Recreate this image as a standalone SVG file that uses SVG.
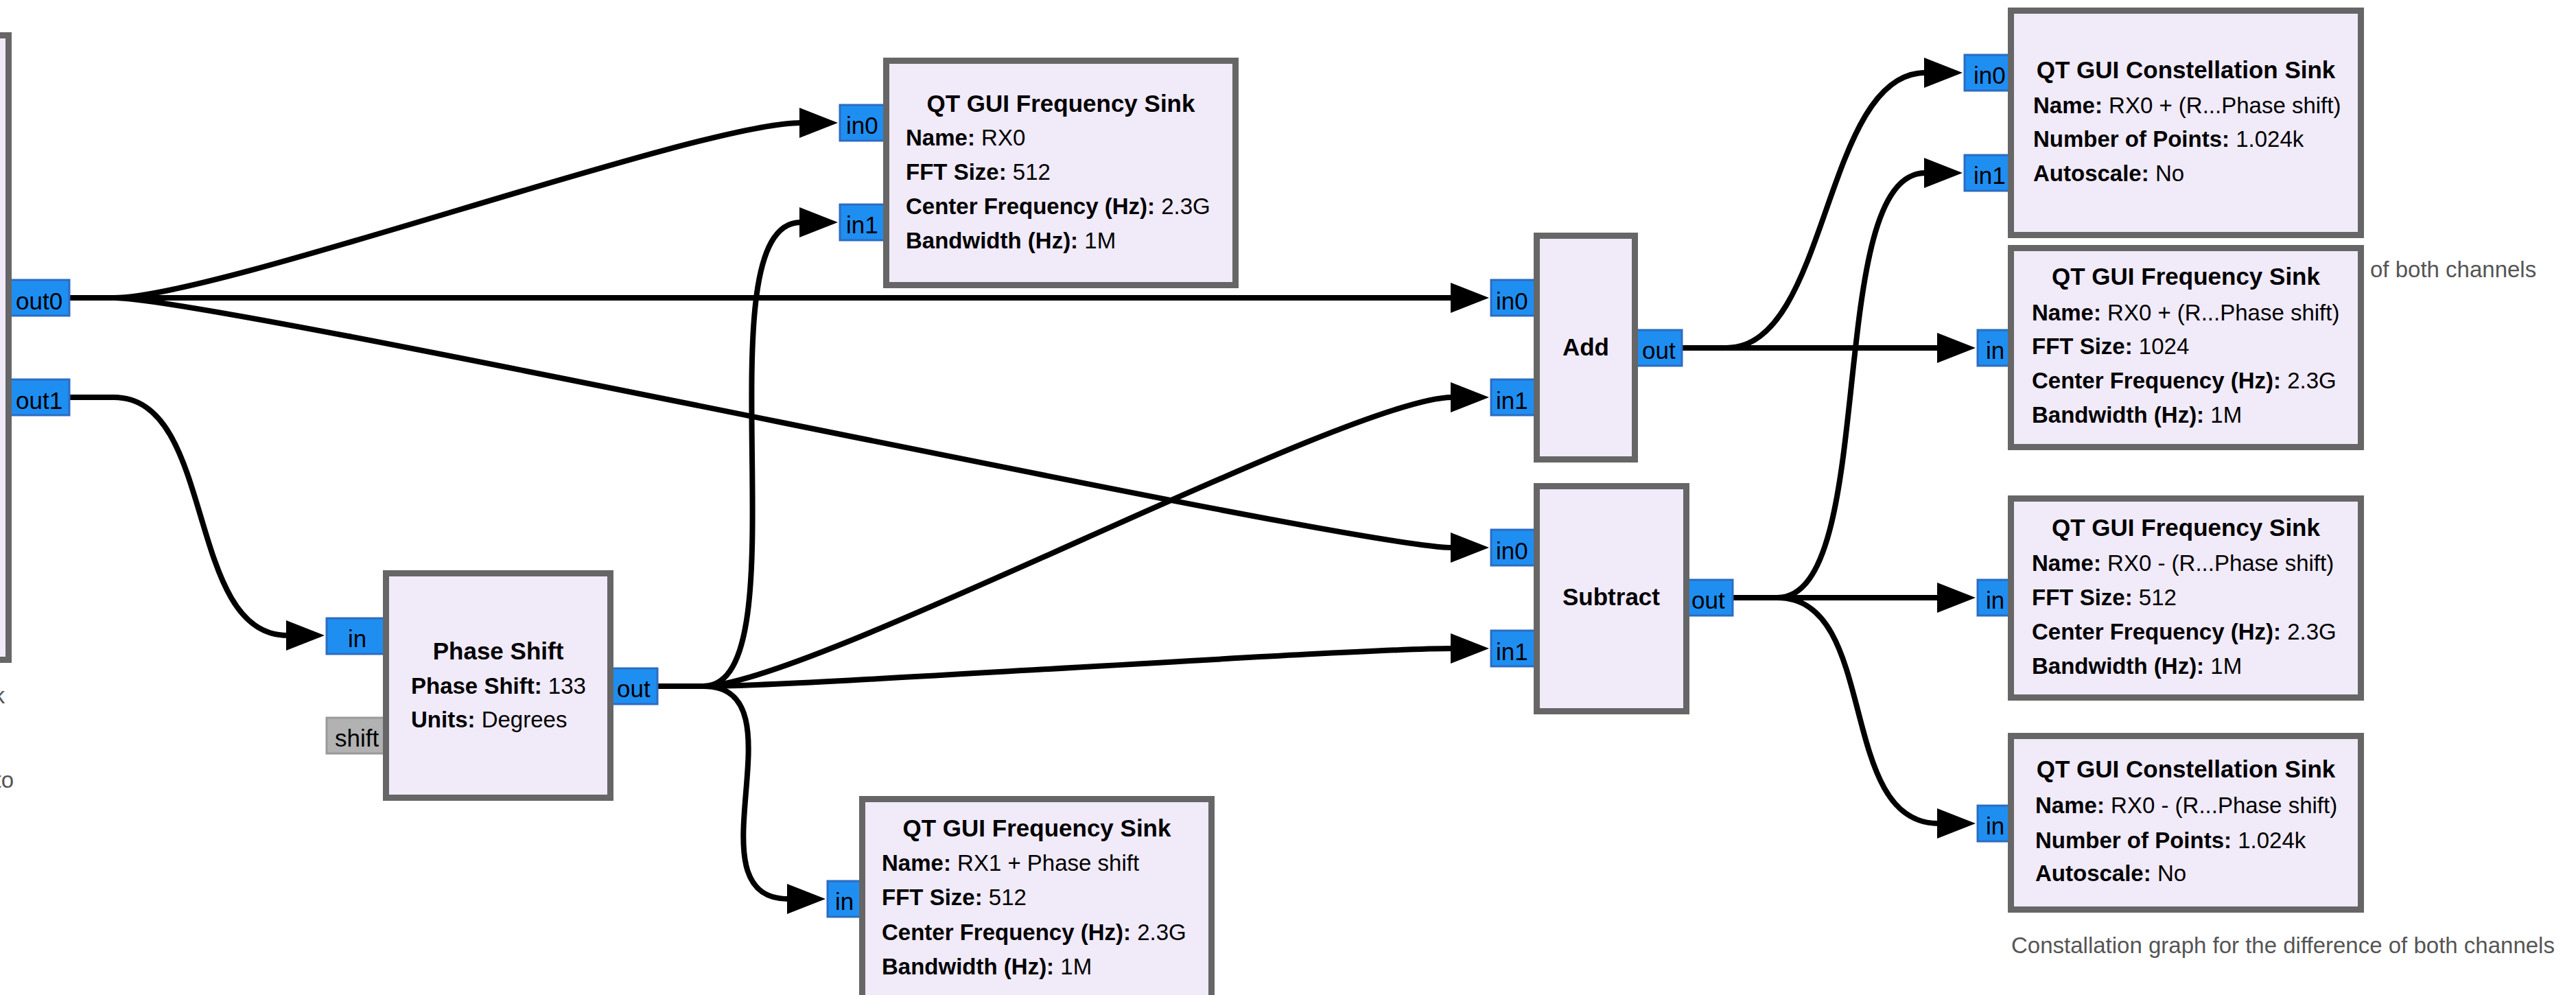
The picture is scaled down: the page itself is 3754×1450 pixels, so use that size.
<svg xmlns="http://www.w3.org/2000/svg" width="3754" height="1450" viewBox="0 0 3754 1450">
  <style>
    text { font-family: "Liberation Sans", Arial, sans-serif; fill: #000; }
    .blk { fill: #f0eaf9; stroke: #666; stroke-width: 9; }
    .port { fill: #1f8ef1; stroke: #2c6cc2; stroke-width: 3; }
    .pgray { fill: #b2b2b2; stroke: #9a9a9a; stroke-width: 3; }
    .plbl { font-size: 35px; }
    .title { font-size: 35px; font-weight: bold; text-anchor: middle; }
    .body { font-size: 33px; }
    .b { font-weight: bold; }
    .wire { fill: none; stroke: #000; stroke-width: 8; marker-end: url(#arrow); }
    .note { font-size: 33px; fill: #555; }
  </style>
  <defs>
    <marker id="arrow" markerUnits="userSpaceOnUse" markerWidth="58" markerHeight="46" refX="2" refY="23" orient="auto">
      <path d="M0,1 L56,23 L0,45 Z" fill="#000"/>
    </marker>
  </defs>
  <rect width="3754" height="1450" fill="#fff"/>

  <!-- connections -->
  <g id="connections">
    <path class="wire" d="M101,434 H166 C316,434 1017,179 1167,179"/>
    <path class="wire" d="M101,434 H2116"/>
    <path class="wire" d="M101,434 H166 C316,434 1966,798 2116,798"/>
    <path class="wire" d="M101,579 H166 C316,579 269,926 419,926"/>
    <path class="wire" d="M958,1000 H1025 C1175,1000 1017,324 1167,324"/>
    <path class="wire" d="M958,1000 H1025 C1175,1000 1966,579 2116,579"/>
    <path class="wire" d="M958,1000 H1025 C1175,1000 1966,945 2116,945"/>
    <path class="wire" d="M958,1000 H1025 C1175,1000 999,1310 1149,1310"/>
    <path class="wire" d="M2451,507 H2516 C2666,507 2656,106 2806,106"/>
    <path class="wire" d="M2451,507 H2825"/>
    <path class="wire" d="M2525,871 H2590 C2740,871 2656,252 2806,252"/>
    <path class="wire" d="M2525,871 H2825"/>
    <path class="wire" d="M2525,871 H2590 C2740,871 2675,1200 2825,1200"/>
  </g>

  <!-- source block, cut off at the left edge -->
  <g id="source">
    <rect class="port" x="6" y="408" width="95" height="52"/>
    <text class="plbl" x="23" y="451">out0</text>
    <rect class="port" x="6" y="553" width="95" height="52"/>
    <text class="plbl" x="23" y="596">out1</text>
    <rect class="blk" x="-100" y="51.5" width="112.5" height="910"/>
    <text class="note" x="7" y="1025" text-anchor="end">k</text>
    <text class="note" x="20" y="1148" text-anchor="end">to</text>
  </g>

  <!-- QT GUI Frequency Sink: RX0 -->
  <g id="freq_sink_rx0">
    <rect class="port" x="1224" y="153" width="75" height="52"/>
    <text class="plbl" x="1233" y="195">in0</text>
    <rect class="port" x="1224" y="298" width="75" height="52"/>
    <text class="plbl" x="1233" y="340">in1</text>
    <rect class="blk" x="1291.5" y="88.5" width="509" height="327"/>
    <text class="title" x="1546" y="163">QT GUI Frequency Sink</text>
    <text class="body" x="1320" y="212"><tspan class="b">Name:</tspan> RX0</text>
    <text class="body" x="1320" y="262"><tspan class="b">FFT Size:</tspan> 512</text>
    <text class="body" x="1320" y="312"><tspan class="b">Center Frequency (Hz):</tspan> 2.3G</text>
    <text class="body" x="1320" y="362"><tspan class="b">Bandwidth (Hz):</tspan> 1M</text>
  </g>

  <!-- Phase Shift -->
  <g id="phase_shift">
    <rect class="port" x="476" y="901" width="95" height="52"/>
    <text class="plbl" x="507" y="943">in</text>
    <rect class="pgray" x="476" y="1046" width="95" height="52"/>
    <text class="plbl" x="488" y="1088">shift</text>
    <rect class="port" x="880" y="974" width="78" height="52"/>
    <text class="plbl" x="899" y="1016">out</text>
    <rect class="blk" x="562.5" y="835.5" width="327" height="327"/>
    <text class="title" x="726" y="961">Phase Shift</text>
    <text class="body" x="599" y="1011"><tspan class="b">Phase Shift:</tspan> 133</text>
    <text class="body" x="599" y="1060"><tspan class="b">Units:</tspan> Degrees</text>
  </g>

  <!-- QT GUI Frequency Sink: RX1 + Phase shift -->
  <g id="freq_sink_rx1">
    <rect class="port" x="1206" y="1284" width="60" height="52"/>
    <text class="plbl" x="1217" y="1326">in</text>
    <rect class="blk" x="1256.5" y="1164.5" width="509" height="290"/>
    <text class="title" x="1511" y="1219">QT GUI Frequency Sink</text>
    <text class="body" x="1285" y="1269"><tspan class="b">Name:</tspan> RX1 + Phase shift</text>
    <text class="body" x="1285" y="1319"><tspan class="b">FFT Size:</tspan> 512</text>
    <text class="body" x="1285" y="1370"><tspan class="b">Center Frequency (Hz):</tspan> 2.3G</text>
    <text class="body" x="1285" y="1420"><tspan class="b">Bandwidth (Hz):</tspan> 1M</text>
  </g>

  <!-- Add -->
  <g id="add">
    <rect class="port" x="2173" y="408" width="75" height="52"/>
    <text class="plbl" x="2180" y="451">in0</text>
    <rect class="port" x="2173" y="553" width="75" height="52"/>
    <text class="plbl" x="2180" y="596">in1</text>
    <rect class="port" x="2374" y="481" width="77" height="52"/>
    <text class="plbl" x="2393" y="523">out</text>
    <rect class="blk" x="2239.5" y="343.5" width="143" height="326"/>
    <text class="title" x="2311" y="518">Add</text>
  </g>

  <!-- Subtract -->
  <g id="subtract">
    <rect class="port" x="2173" y="772" width="75" height="52"/>
    <text class="plbl" x="2180" y="815">in0</text>
    <rect class="port" x="2173" y="919" width="75" height="52"/>
    <text class="plbl" x="2180" y="962">in1</text>
    <rect class="port" x="2448" y="845" width="77" height="52"/>
    <text class="plbl" x="2465" y="887">out</text>
    <rect class="blk" x="2239.5" y="708.5" width="218" height="328"/>
    <text class="title" x="2348" y="882">Subtract</text>
  </g>

  <!-- QT GUI Constellation Sink: sum -->
  <g id="const_sink_sum">
    <rect class="port" x="2863" y="80" width="75" height="52"/>
    <text class="plbl" x="2876" y="122">in0</text>
    <rect class="port" x="2863" y="226" width="75" height="52"/>
    <text class="plbl" x="2876" y="268">in1</text>
    <rect class="blk" x="2930.5" y="15.5" width="510" height="327"/>
    <text class="title" x="3185.5" y="114">QT GUI Constellation Sink</text>
    <text class="body" x="2963" y="165"><tspan class="b">Name:</tspan> RX0 + (R...Phase shift)</text>
    <text class="body" x="2963" y="214"><tspan class="b">Number of Points:</tspan> 1.024k</text>
    <text class="body" x="2963" y="264"><tspan class="b">Autoscale:</tspan> No</text>
  </g>

  <!-- QT GUI Frequency Sink: sum -->
  <g id="freq_sink_sum">
    <rect class="port" x="2882" y="481" width="60" height="52"/>
    <text class="plbl" x="2894" y="523">in</text>
    <rect class="blk" x="2930.5" y="361.5" width="510" height="290"/>
    <text class="title" x="3185.5" y="415">QT GUI Frequency Sink</text>
    <text class="body" x="2961" y="467"><tspan class="b">Name:</tspan> RX0 + (R...Phase shift)</text>
    <text class="body" x="2961" y="516"><tspan class="b">FFT Size:</tspan> 1024</text>
    <text class="body" x="2961" y="566"><tspan class="b">Center Frequency (Hz):</tspan> 2.3G</text>
    <text class="body" x="2961" y="616"><tspan class="b">Bandwidth (Hz):</tspan> 1M</text>
    <text class="note" x="3454" y="404">of both channels</text>
  </g>

  <!-- QT GUI Frequency Sink: difference -->
  <g id="freq_sink_diff">
    <rect class="port" x="2882" y="845" width="60" height="52"/>
    <text class="plbl" x="2894" y="887">in</text>
    <rect class="blk" x="2930.5" y="726.5" width="510" height="290"/>
    <text class="title" x="3185.5" y="781">QT GUI Frequency Sink</text>
    <text class="body" x="2961" y="832"><tspan class="b">Name:</tspan> RX0 - (R...Phase shift)</text>
    <text class="body" x="2961" y="882"><tspan class="b">FFT Size:</tspan> 512</text>
    <text class="body" x="2961" y="932"><tspan class="b">Center Frequency (Hz):</tspan> 2.3G</text>
    <text class="body" x="2961" y="982"><tspan class="b">Bandwidth (Hz):</tspan> 1M</text>
  </g>

  <!-- QT GUI Constellation Sink: difference -->
  <g id="const_sink_diff">
    <rect class="port" x="2882" y="1174" width="60" height="52"/>
    <text class="plbl" x="2894" y="1216">in</text>
    <rect class="blk" x="2930.5" y="1072.5" width="510" height="253"/>
    <text class="title" x="3185.5" y="1133">QT GUI Constellation Sink</text>
    <text class="body" x="2966" y="1185"><tspan class="b">Name:</tspan> RX0 - (R...Phase shift)</text>
    <text class="body" x="2966" y="1236"><tspan class="b">Number of Points:</tspan> 1.024k</text>
    <text class="body" x="2966" y="1284"><tspan class="b">Autoscale:</tspan> No</text>
    <text class="note" x="2931" y="1389">Constallation graph for the difference of both channels</text>
  </g>
</svg>
